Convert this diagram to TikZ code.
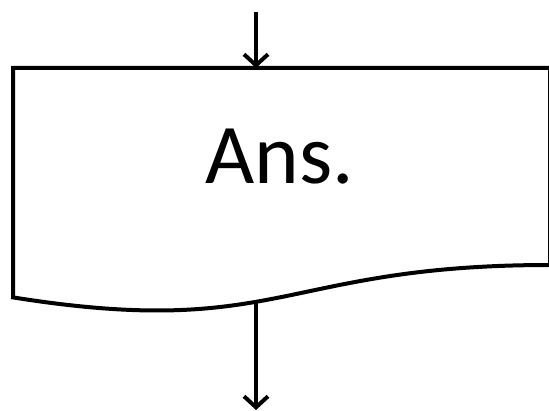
\documentclass[tikz,border=0pt]{standalone}
\usepackage{fontspec}
\setmainfont{Carlito}
\usepackage{tikz}
\usetikzlibrary{arrows.meta, positioning}

\begin{document}
\begin{tikzpicture}[
  x=1pt, y=-1pt,
  docshape/.style={draw, line width=4pt, line join=miter, fill=white},
  label/.style={font=\fontsize{85}{95}\selectfont, inner sep=0pt, anchor=base},
  arr/.style={-{Straight Barb[length=11pt,width=24pt]}, line width=4pt}
]
\useasboundingbox (0,0) rectangle (549,411);

% document symbol
\draw[docshape] (13,297.4) -- (13,68) -- (550,68) -- (550,265)
  .. controls (280.5,265) and (280.5,340) .. (13,297.4) -- cycle;
\node[label] (ans) at (280,184) {Ans.};

\coordinate (start) at (256,12);
\coordinate (docin) at (256,68);
\coordinate (docout) at (256,301);
\coordinate (stop) at (256,410);

\draw[arr] (start) -- (docin);
\draw[arr] (docout) -- (stop);
\end{tikzpicture}
\end{document}
